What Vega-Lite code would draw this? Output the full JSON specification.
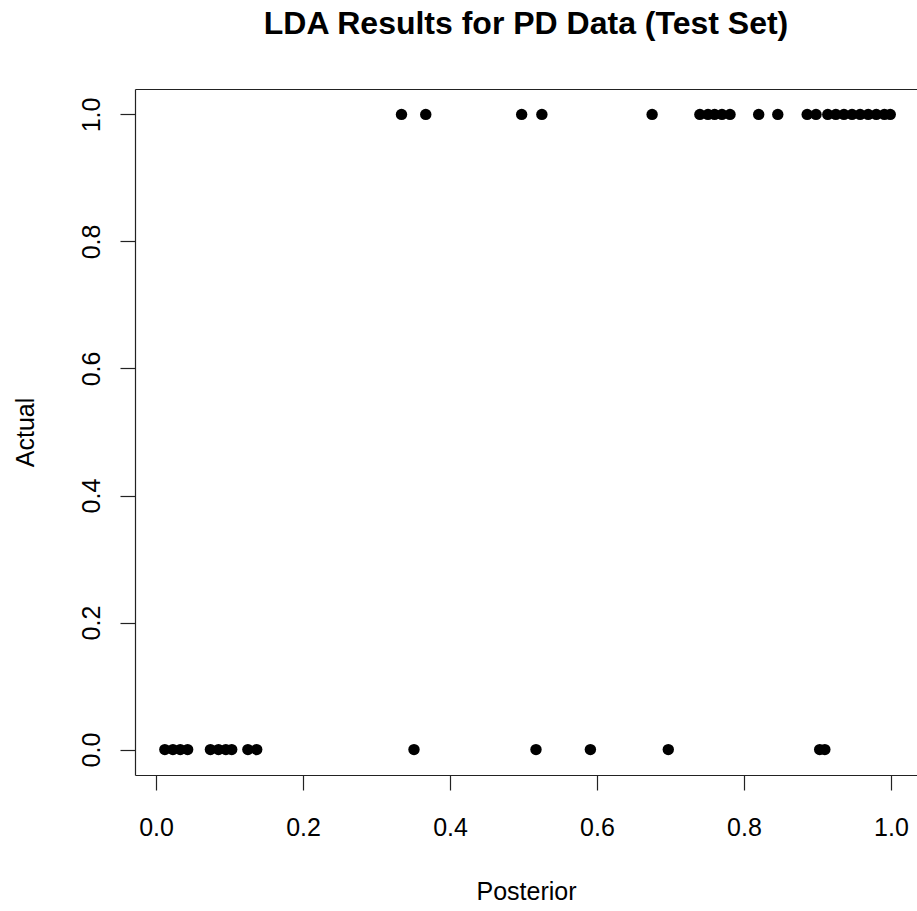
{
  "$schema": "https://vega.github.io/schema/vega-lite/v6.json",
  "autosize": "none",
  "width": 782,
  "height": 686,
  "padding": {"left": 135, "top": 89, "right": 0, "bottom": 136},
  "background": "white",
  "title": {
    "text": "LDA Results for PD Data (Test Set)",
    "font": "Liberation Sans",
    "fontSize": 32,
    "fontWeight": "bold",
    "color": "black",
    "anchor": "middle",
    "baseline": "alphabetic",
    "offset": 23
  },
  "config": {
    "view": {"stroke": null},
    "axis": {
      "labelFont": "Liberation Sans",
      "labelFontSize": 25,
      "labelColor": "black",
      "titleFont": "Liberation Sans",
      "titleFontSize": 25,
      "titleFontWeight": "normal",
      "titleColor": "black",
      "domainColor": "#222",
      "domainWidth": 1.2,
      "tickColor": "#222",
      "tickWidth": 1.2,
      "tickSize": 15,
      "grid": false
    }
  },
  "data": {
    "values": [
      {"posterior": 0.012, "actual": 0},
      {"posterior": 0.023, "actual": 0},
      {"posterior": 0.033, "actual": 0},
      {"posterior": 0.043, "actual": 0},
      {"posterior": 0.074, "actual": 0},
      {"posterior": 0.085, "actual": 0},
      {"posterior": 0.095, "actual": 0},
      {"posterior": 0.103, "actual": 0},
      {"posterior": 0.125, "actual": 0},
      {"posterior": 0.137, "actual": 0},
      {"posterior": 0.351, "actual": 0},
      {"posterior": 0.517, "actual": 0},
      {"posterior": 0.591, "actual": 0},
      {"posterior": 0.697, "actual": 0},
      {"posterior": 0.903, "actual": 0},
      {"posterior": 0.910, "actual": 0},
      {"posterior": 0.334, "actual": 1},
      {"posterior": 0.367, "actual": 1},
      {"posterior": 0.4975, "actual": 1},
      {"posterior": 0.525, "actual": 1},
      {"posterior": 0.675, "actual": 1},
      {"posterior": 0.740, "actual": 1},
      {"posterior": 0.751, "actual": 1},
      {"posterior": 0.760, "actual": 1},
      {"posterior": 0.770, "actual": 1},
      {"posterior": 0.781, "actual": 1},
      {"posterior": 0.820, "actual": 1},
      {"posterior": 0.846, "actual": 1},
      {"posterior": 0.886, "actual": 1},
      {"posterior": 0.898, "actual": 1},
      {"posterior": 0.914, "actual": 1},
      {"posterior": 0.925, "actual": 1},
      {"posterior": 0.936, "actual": 1},
      {"posterior": 0.947, "actual": 1},
      {"posterior": 0.958, "actual": 1},
      {"posterior": 0.969, "actual": 1},
      {"posterior": 0.980, "actual": 1},
      {"posterior": 0.991, "actual": 1},
      {"posterior": 0.999, "actual": 1}
    ]
  },
  "resolve": {"axis": {"x": "independent"}},
  "layer": [
    {
      "mark": {"type": "point", "filled": true, "color": "black", "opacity": 1, "size": 130, "shape": "circle"},
      "encoding": {
        "x": {
          "field": "posterior",
          "type": "quantitative",
          "scale": {"domain": [-0.0286, 1.0354], "nice": false, "zero": false},
          "axis": {
            "orient": "bottom",
            "values": [0, 0.2, 0.4, 0.6, 0.8, 1.0],
            "format": ".1f",
            "labelPadding": 25,
            "title": "Posterior",
            "titleBaseline": "alphabetic",
            "titleY": 124,
            "labelFlush": false,
            "labelOverlap": false
          }
        },
        "y": {
          "field": "actual",
          "type": "quantitative",
          "scale": {"domain": [-0.04, 1.04], "nice": false, "zero": false},
          "axis": {
            "values": [0, 0.2, 0.4, 0.6, 0.8, 1.0],
            "format": ".1f",
            "labelAngle": -90,
            "labelAlign": "center",
            "labelBaseline": "alphabetic",
            "labelPadding": 21,
            "title": "Actual",
            "titleAngle": -90,
            "titleBaseline": "alphabetic",
            "titleX": -102,
            "labelFlush": false,
            "labelOverlap": false
          }
        }
      }
    },
    {
      "mark": {"type": "point", "opacity": 0},
      "encoding": {
        "x": {
          "field": "posterior",
          "type": "quantitative",
          "axis": {"orient": "top", "labels": false, "ticks": false, "title": null, "domain": true}
        },
        "y": {"field": "actual", "type": "quantitative"}
      }
    }
  ]
}
